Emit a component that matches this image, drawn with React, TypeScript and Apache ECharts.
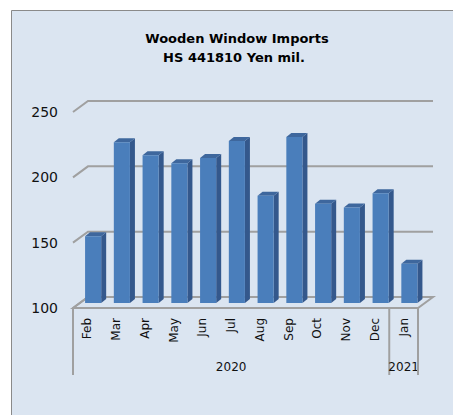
import React, { useEffect, useRef } from "react";
import * as echarts from "echarts";

const categories = ["Feb", "Mar", "Apr", "May", "Jun", "Jul", "Aug", "Sep", "Oct", "Nov", "Dec", "Jan"];
const values = [151, 223, 213, 207, 211, 224, 182, 227, 176, 173, 184, 130];
const yTicks = [100, 150, 200, 250];
const yearLabels = ["2020", "2021"];
const yearStart = [0, 11];
const yearEnd = [10, 11];

const FONT = "DejaVu Sans";
const BACK_DX = 15;
const BACK_DY = -11;

export default function App() {
  const ref = useRef<HTMLDivElement>(null);
  useEffect(() => {
    if (!ref.current) return;
    const chart = echarts.init(ref.current, null, { renderer: "svg" });
    const yMin = yTicks[0];
    const yMax = yTicks[yTicks.length - 1];
    const option: any = {
      animation: false,
      backgroundColor: "#ffffff",
      graphic: [
        {
          type: "rect",
          z: -10,
          shape: { x: 11.5, y: 10.5, width: 460, height: 420 },
          style: { fill: "#dbe5f1", stroke: "#8a8a8a", lineWidth: 1 },
        },
        {
          type: "text",
          x: 237,
          y: 38,
          style: {
            text: "Wooden Window Imports",
            font: `bold 13px "${FONT}"`,
            fill: "#000",
            textAlign: "center",
            textVerticalAlign: "middle",
          },
        },
        {
          type: "text",
          x: 234,
          y: 57,
          style: {
            text: "HS 441810 Yen mil.",
            font: `bold 13px "${FONT}"`,
            fill: "#000",
            textAlign: "center",
            textVerticalAlign: "middle",
          },
        },
      ],
      grid: { left: 73, right: 35, top: 112, bottom: 107 },
      xAxis: {
        type: "category",
        data: categories,
        boundaryGap: true,
        axisLine: { show: true, lineStyle: { color: "#a0a0a0", width: 2 } },
        axisTick: { show: false },
        axisLabel: {
          rotate: 90,
          margin: 10,
          fontSize: 12,
          fontFamily: FONT,
          color: "#111",
          interval: 0,
        },
        splitLine: { show: false },
        z: 5,
      },
      yAxis: {
        type: "value",
        min: yMin,
        max: yMax,
        interval: 50,
        axisLine: { show: false },
        axisTick: { show: false },
        splitLine: { show: false },
        axisLabel: { fontSize: 14, fontFamily: FONT, color: "#111", margin: 15 },
      },
      series: [
        {
          type: "custom",
          name: "grid",
          data: yTicks.map((v) => [0, v]),
          clip: false,
          silent: true,
          z: 1,
          renderItem: (params: any, api: any) => {
            const v = api.value(1);
            const cs = params.coordSys;
            const y = api.coord([0, v])[1];
            const x0 = cs.x;
            const x1 = cs.x + cs.width;
            const children: any[] = [];
            if (v === yMin) {
              children.push({
                type: "polygon",
                shape: {
                  points: [
                    [x0, y],
                    [x0 + BACK_DX, y + BACK_DY],
                    [x1 + BACK_DX, y + BACK_DY],
                    [x1, y],
                  ],
                },
                style: { fill: "#dbe5f1", stroke: "#a0a0a0", lineWidth: 2 },
              });
            }
            children.push({
              type: "polyline",
              shape: {
                points: [
                  [x0, y],
                  [x0 + BACK_DX, y + BACK_DY],
                  [x1 + BACK_DX, y + BACK_DY],
                ],
              },
              style: { stroke: "#a0a0a0", lineWidth: 2, fill: "none" },
            });
            return { type: "group", children };
          },
        },
        {
          type: "custom",
          name: "Imports",
          data: values.map((v, i) => [i, v]),
          clip: false,
          z: 3,
          renderItem: (params: any, api: any) => {
            const i = api.value(0);
            const v = api.value(1);
            const p = api.coord([i, v]);
            const b = api.coord([i, yMin]);
            const band = api.size([1, 0])[0];
            const w = band * 0.56;
            const ox = band * 0.2;
            const oy = -5;
            const dx = 5;
            const dy = -4;
            const left = p[0] + ox - w / 2;
            const top = p[1] + oy;
            const bottom = b[1] + oy;
            return {
              type: "group",
              children: [
                {
                  type: "polygon",
                  shape: {
                    points: [
                      [left + w, top],
                      [left + w + dx, top + dy],
                      [left + w + dx, bottom + dy],
                      [left + w, bottom],
                    ],
                  },
                  style: { fill: "#34588c" },
                },
                {
                  type: "polygon",
                  shape: {
                    points: [
                      [left, top],
                      [left + dx, top + dy],
                      [left + w + dx, top + dy],
                      [left + w, top],
                    ],
                  },
                  style: { fill: "#3e679d" },
                },
                {
                  type: "rect",
                  shape: { x: left, y: top, width: w, height: bottom - top },
                  style: { fill: "#4a7ebb" },
                },
              ],
            };
          },
        },
        {
          type: "custom",
          name: "years",
          data: yearLabels.map((t, k) => [yearStart[k], yearEnd[k]]),
          clip: false,
          silent: true,
          z: 4,
          renderItem: (params: any, api: any) => {
            const k = params.dataIndex;
            const s = api.value(0);
            const e = api.value(1);
            const band = api.size([1, 0])[0];
            const yb = api.coord([s, yMin])[1];
            const xl = api.coord([s, yMin])[0] - band / 2;
            const xr = api.coord([e, yMin])[0] + band / 2;
            const children: any[] = [
              {
                type: "line",
                shape: { x1: xl, y1: yb, x2: xl, y2: yb + 67 },
                style: { stroke: "#a0a0a0", lineWidth: 2 },
              },
              {
                type: "text",
                x: (xl + xr) / 2,
                y: yb + 59,
                style: {
                  text: yearLabels[k],
                  font: `12px "${FONT}"`,
                  fill: "#111",
                  textAlign: "center",
                  textVerticalAlign: "middle",
                },
              },
            ];
            if (k === yearLabels.length - 1) {
              children.push({
                type: "line",
                shape: { x1: xr, y1: yb, x2: xr, y2: yb + 67 },
                style: { stroke: "#a0a0a0", lineWidth: 2 },
              });
            }
            return { type: "group", children };
          },
        },
      ],
    };
    chart.setOption(option);
    return () => chart.dispose();
  }, []);
  return (
    <div
      ref={ref}
      style={{ position: "fixed", left: 0, top: 0, width: 453, height: 415 }}
    />
  );
}
